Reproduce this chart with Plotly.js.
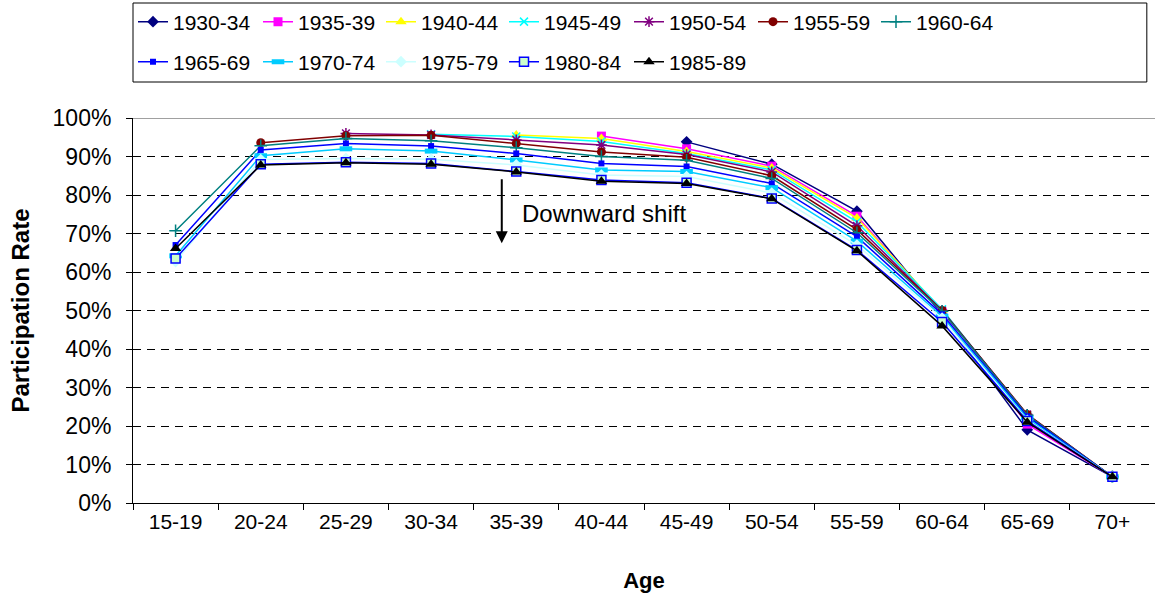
<!DOCTYPE html>
<html>
<head>
<meta charset="utf-8">
<script src="https://cdn.plot.ly/plotly-3.0.1.min.js"></script>
<style>html,body{margin:0;padding:0;background:#fff;}#chart{width:1155px;height:597px;}</style>
</head>
<body>
<div id="chart"></div>
<script>
const ages = ['15-19','20-24','25-29','30-34','35-39','40-44','45-49','50-54','55-59','60-64','65-69','70+'];
const cohorts = ['1930-34','1935-39','1940-44','1945-49','1950-54','1955-59','1960-64','1965-69','1970-74','1975-79','1980-84','1985-89'];

const c1930 = [null,null,null,null,null,null,93.8,88.0,75.8,49.0,19.0,6.8];
const c1935 = [null,null,null,null,null,95.3,92.0,87.5,74.5,49.5,20.5,6.8];
const c1940 = [null,null,null,null,95.6,94.7,91.3,87.0,74.0,50.0,22.0,6.8];
const c1945 = [null,null,null,95.8,95.2,93.9,90.8,86.5,73.0,50.3,22.5,6.8];
const c1950 = [null,null,96.0,95.6,94.3,93.0,90.5,86.0,72.0,50.0,23.0,6.8];
const c1955 = [null,93.6,95.4,95.5,93.4,91.2,89.8,85.0,71.0,50.0,23.0,6.8];
const c1960 = [70.7,92.8,94.7,94.1,92.3,90.0,89.0,84.3,70.2,49.8,22.8,6.8];
const c1965 = [67.0,91.7,93.4,92.7,90.8,88.2,87.4,83.0,69.2,49.0,22.5,6.8];
const c1970 = [64.2,90.2,92.0,91.4,89.1,86.5,86.1,81.9,68.0,48.5,22.0,6.8];
const c1975 = [62.7,89.2,89.5,89.3,87.8,85.2,84.8,80.5,67.0,48.0,21.5,6.8];
const c1980 = [63.5,88.0,88.5,88.2,86.1,83.9,83.2,79.1,65.7,47.0,21.3,6.8];
const c1985 = [66.1,87.8,88.4,88.0,86.0,83.6,83.0,79.0,65.5,46.0,21.0,6.8];

const seriesValues = [c1930,c1935,c1940,c1945,c1950,c1955,c1960,c1965,c1970,c1975,c1980,c1985];

const styles = [
  {color:'#000080', symbol:'diamond', size:9},
  {color:'#FF00FF', symbol:'square', size:9},
  {color:'#FFFF00', symbol:'triangle-up', size:10},
  {color:'#00FFFF', symbol:'x-thin-open', size:8, lw:1.5},
  {color:'#800080', symbol:'asterisk-open', size:9, lw:1.5},
  {color:'#800000', symbol:'circle', size:9},
  {color:'#008080', symbol:'cross-thin-open', size:9, lw:1.5},
  {color:'#0000FF', symbol:'square', size:6},
  {color:'#00CCFF', symbol:'line-ew-open', size:9, lw:5},
  {color:'#CCFFFF', symbol:'diamond', size:9},
  {color:'#0000FF', symbol:'square', size:9, fill:'#CCFFCC', lw:1.5},
  {color:'#000000', symbol:'triangle-up', size:10}
];

const fontFam = 'Liberation Sans, Arial, sans-serif';
const plotLeft = 133, plotWidth = 1022, plotTop = 118, plotHeight = 385;
const colTextX = [172, 297, 420, 543, 668, 792, 915];
const rowCenterY = [22, 62];

const legendIds = cohorts.map((_, i) => i === 0 ? 'legend' : 'legend' + (i + 1));

const traces = cohorts.map((name,i)=>{
  const s = styles[i];
  const marker = {symbol:s.symbol, size:s.size, color: s.fill || s.color,
    line:{color:s.color, width: s.lw !== undefined ? s.lw : 0}};
  return {
    type:'scatter', mode:'lines+markers', name:name,
    x: ages, y: seriesValues[i],
    line:{color:s.color, width:1.5},
    marker: marker,
    legend: legendIds[i],
    hoverinfo:'x+y+name'
  };
});

const layout = {
  width:1155, height:597,
  margin:{l:plotLeft, r:0, t:plotTop, b:94},
  paper_bgcolor:'#fff', plot_bgcolor:'#fff',
  font:{family:fontFam, size:20, color:'#000'},
  showlegend:true,
  xaxis:{
    type:'category', range:[-0.5, 11.5],
    showline:true, linecolor:'#000', linewidth:1,
    ticks:'outside', ticklen:6, tickcolor:'#000', tickson:'boundaries',
    showgrid:false, zeroline:false,
    tickfont:{family:fontFam, size:21, color:'#000'},
    title:{text:'<b>Age</b>', font:{family:fontFam, size:22, color:'#000'}, standoff:40}
  },
  yaxis:{
    range:[0,100], dtick:10, ticksuffix:'%',
    showline:true, linecolor:'#000', linewidth:1,
    ticks:'outside', ticklen:6, tickcolor:'#000', ticklabelstandoff:10,
    showgrid:true, gridcolor:'#000', gridwidth:1, griddash:'8px,6px',
    zeroline:false,
    tickfont:{family:fontFam, size:23, color:'#000'},
    title:{text:'<b>Participation Rate</b>', font:{family:fontFam, size:24, color:'#000'}, standoff:16}
  },
  shapes:[
    {type:'line', xref:'paper', yref:'y', x0:0, x1:1, y0:100, y1:100, line:{color:'#808080', width:1.5}},
    {type:'rect', xref:'paper', yref:'paper', x0:0, x1:0.992, y0:1.0935, y1:1.2987, line:{color:'#000', width:1}}
  ],
  annotations:[
    {x:3.83, y:67.5, ax:3.83, ay:84.5, xref:'x', yref:'y', axref:'x', ayref:'y',
     text:'', showarrow:true, arrowhead:2, arrowsize:1.2, arrowwidth:2, arrowcolor:'#000'},
    {x:4.04, y:75.3, xref:'x', yref:'y', xanchor:'left', yanchor:'middle', showarrow:false,
     text:'Downward shift', font:{family:fontFam, size:24, color:'#000'}}
  ]
};

legendIds.forEach((id, i) => {
  const row = i < 7 ? 0 : 1;
  const col = i < 7 ? i : i - 7;
  layout[id] = {
    x: (colTextX[col] - 39 - plotLeft) / plotWidth,
    y: (plotTop + plotHeight - rowCenterY[row]) / plotHeight,
    xanchor:'left', yanchor:'middle', orientation:'h',
    font:{family:fontFam, size:21, color:'#000'},
    bgcolor:'rgba(0,0,0,0)', borderwidth:0, itemwidth:30
  };
});

Plotly.newPlot('chart', traces, layout, {displayModeBar:false, staticPlot:true});
</script>
</body>
</html>
